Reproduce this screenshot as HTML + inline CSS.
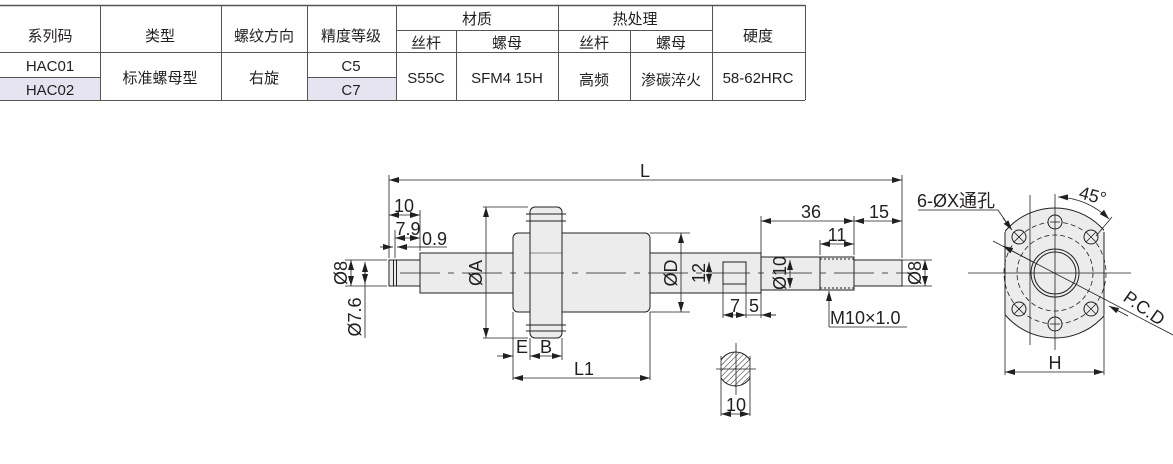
<!DOCTYPE html>
<html><head><meta charset="utf-8"><style>
body{margin:0;width:1173px;height:464px;background:#fff;overflow:hidden;position:relative;font-family:"Liberation Sans","Noto Sans CJK SC",sans-serif;}
svg{position:absolute;left:0;top:0}
</style></head><body>
<svg width="1173" height="464" viewBox="0 0 1173 464" font-family="Liberation Sans, Noto Sans CJK SC, sans-serif" fill="none" stroke="#231f20">
<defs>
<marker id="a" viewBox="0 0 10 6" refX="10" refY="3" markerWidth="10" markerHeight="6" orient="auto-start-reverse" markerUnits="userSpaceOnUse"><path d="M0,0L10,3L0,6z" fill="#231f20" stroke="none"/></marker>
<pattern id="h" width="4" height="4" patternUnits="userSpaceOnUse" patternTransform="rotate(45)"><line x1="0" y1="0" x2="0" y2="4" stroke="#231f20" stroke-width="1"/></pattern>
<clipPath id="cc"><rect x="721" y="340" width="29" height="60"/></clipPath>
<clipPath id="fc"><rect x="1005" y="200" width="99" height="150"/></clipPath>
</defs>
<!-- TABLE -->
<g stroke="#555" stroke-width="1">
<rect x="0" y="77" width="100" height="23" fill="#e6e4f0" stroke="none"/>
<rect x="307" y="77" width="89" height="23" fill="#e6e4f0" stroke="none"/>
<line x1="0" y1="5.5" x2="805" y2="5.5" stroke-width="1.5"/>
<line x1="0" y1="52.5" x2="805" y2="52.5"/>
<line x1="0" y1="100.5" x2="805" y2="100.5"/>
<line x1="396" y1="30.5" x2="712" y2="30.5"/>
<line x1="0" y1="77.5" x2="100" y2="77.5"/>
<line x1="307" y1="77.5" x2="396" y2="77.5"/>
<line x1="100.5" y1="5" x2="100.5" y2="100"/>
<line x1="221.5" y1="5" x2="221.5" y2="100"/>
<line x1="307.5" y1="5" x2="307.5" y2="100"/>
<line x1="396.5" y1="5" x2="396.5" y2="100"/>
<line x1="456.5" y1="30" x2="456.5" y2="100"/>
<line x1="558.5" y1="5" x2="558.5" y2="100"/>
<line x1="630.5" y1="30" x2="630.5" y2="100"/>
<line x1="712.5" y1="5" x2="712.5" y2="100"/>
<line x1="805.5" y1="5" x2="805.5" y2="100"/>
</g>
<g fill="#231f20" stroke="none" font-size="15" text-anchor="middle">
<text x="50" y="41">系列码</text><text x="160" y="41">类型</text><text x="264" y="41">螺纹方向</text><text x="351" y="41">精度等级</text>
<text x="477" y="24">材质</text><text x="635" y="24">热处理</text><text x="758" y="41">硬度</text>
<text x="426" y="48">丝杆</text><text x="507" y="48">螺母</text><text x="594" y="48">丝杆</text><text x="671" y="48">螺母</text>
<text x="50" y="71">HAC01</text><text x="50" y="95">HAC02</text>
<text x="160" y="83">标准螺母型</text><text x="264" y="83">右旋</text>
<text x="351" y="71">C5</text><text x="351" y="95">C7</text>
<text x="426" y="83">S55C</text><text x="507" y="83">SFM4 15H</text>
<text x="594" y="85">高频</text><text x="671" y="85">渗碳淬火</text>
<text x="758" y="83">58-62HRC</text>
</g>
<!-- SHAFT -->
<g stroke-width="1" fill="#ececec">
<rect x="389" y="260" width="31" height="26"/>
<rect x="420" y="253" width="93" height="40"/>
<rect x="513" y="233" width="137" height="79" rx="5"/>
<rect x="530" y="207" width="32" height="131" rx="5"/>
<rect x="650" y="253" width="111" height="40"/>
<rect x="761" y="257" width="59" height="33"/>
<rect x="820" y="257" width="34" height="33"/>
<rect x="854" y="260" width="48" height="26"/>
</g>
<g stroke-width="1">
<line x1="393.5" y1="260" x2="393.5" y2="286"/><line x1="396.5" y1="260" x2="396.5" y2="286"/>
<line x1="526" y1="214" x2="566" y2="214"/><line x1="526" y1="221" x2="566" y2="221"/>
<line x1="526" y1="325" x2="566" y2="325"/><line x1="526" y1="331" x2="566" y2="331"/>
<line x1="530" y1="253" x2="562" y2="253" stroke-width="0.6"/>
<rect x="723" y="262" width="23" height="22" fill="none"/>
<line x1="820" y1="259" x2="854" y2="259" stroke-dasharray="2,2"/><line x1="820" y1="288" x2="854" y2="288" stroke-dasharray="2,2"/>
<line x1="400" y1="273" x2="916" y2="273" stroke-width="0.7" stroke-dasharray="40,8,6,8"/>
</g>
<!-- dims -->
<g stroke-width="0.8">
<line x1="389" y1="175" x2="389" y2="258"/><line x1="902" y1="175" x2="902" y2="258"/>
<line x1="389" y1="180" x2="902" y2="180" marker-start="url(#a)" marker-end="url(#a)"/>
<line x1="420" y1="210" x2="420" y2="251"/>
<line x1="389" y1="215" x2="420" y2="215" marker-start="url(#a)" marker-end="url(#a)"/>
<line x1="395" y1="230" x2="395" y2="258"/>
<line x1="395" y1="238" x2="420" y2="238" marker-start="url(#a)" marker-end="url(#a)"/>
<line x1="380" y1="247" x2="393" y2="247" marker-end="url(#a)"/><line x1="430" y1="247" x2="397" y2="247" marker-end="url(#a)"/><line x1="420" y1="247" x2="447" y2="247"/>
<line x1="345" y1="260" x2="387" y2="260"/><line x1="345" y1="286" x2="387" y2="286"/>
<line x1="351" y1="260" x2="351" y2="286" marker-start="url(#a)" marker-end="url(#a)"/>
<line x1="365" y1="262" x2="365" y2="338"/><line x1="365" y1="262" x2="365" y2="284" marker-start="url(#a)" marker-end="url(#a)"/>
<line x1="483" y1="207" x2="528" y2="207"/><line x1="483" y1="338" x2="528" y2="338"/>
<line x1="486" y1="207" x2="486" y2="338" marker-start="url(#a)" marker-end="url(#a)"/>
<line x1="513" y1="312" x2="513" y2="380"/><line x1="530" y1="338" x2="530" y2="360"/><line x1="562" y1="338" x2="562" y2="360"/><line x1="650" y1="312" x2="650" y2="380"/>
<line x1="497" y1="356" x2="513" y2="356" marker-end="url(#a)"/>
<line x1="530" y1="356" x2="562" y2="356" marker-start="url(#a)" marker-end="url(#a)"/>
<line x1="513" y1="378" x2="650" y2="378" marker-start="url(#a)" marker-end="url(#a)"/>
<line x1="650" y1="233" x2="690" y2="233"/><line x1="650" y1="312" x2="690" y2="312"/>
<line x1="681" y1="233" x2="681" y2="312" marker-start="url(#a)" marker-end="url(#a)"/>
<line x1="709" y1="262" x2="709" y2="284" marker-start="url(#a)" marker-end="url(#a)"/>
<line x1="723" y1="284" x2="723" y2="318"/><line x1="746" y1="284" x2="746" y2="318"/><line x1="761" y1="293" x2="761" y2="318"/>
<line x1="723" y1="315" x2="746" y2="315" marker-start="url(#a)" marker-end="url(#a)"/>
<line x1="746" y1="315" x2="776" y2="315"/><line x1="776" y1="315" x2="761" y2="315" marker-end="url(#a)"/>
<line x1="790" y1="260" x2="790" y2="288" marker-start="url(#a)" marker-end="url(#a)"/>
<line x1="761" y1="216" x2="761" y2="255"/><line x1="854" y1="216" x2="854" y2="255"/><line x1="820" y1="240" x2="820" y2="255"/>
<line x1="761" y1="221" x2="854" y2="221" marker-start="url(#a)" marker-end="url(#a)"/>
<line x1="854" y1="221" x2="902" y2="221" marker-start="url(#a)" marker-end="url(#a)"/>
<line x1="820" y1="244" x2="854" y2="244" marker-start="url(#a)" marker-end="url(#a)"/>
<line x1="902" y1="260" x2="932" y2="260"/><line x1="902" y1="286" x2="932" y2="286"/>
<line x1="925" y1="260" x2="925" y2="286" marker-start="url(#a)" marker-end="url(#a)"/>
<polyline points="829,327 829,292"/><line x1="829" y1="300" x2="829" y2="291" marker-end="url(#a)"/><line x1="829" y1="327" x2="907" y2="327"/>
</g>
<!-- cross section -->
<g clip-path="url(#cc)"><circle cx="735.5" cy="369" r="17" fill="url(#h)" stroke="#231f20"/></g>
<g stroke-width="0.8">
<line x1="721" y1="356" x2="721" y2="383"/><line x1="750" y1="356" x2="750" y2="383"/>
<line x1="736" y1="343" x2="736" y2="395"/><line x1="716" y1="369" x2="756" y2="369"/>
<line x1="721" y1="383" x2="721" y2="416"/><line x1="750" y1="383" x2="750" y2="416"/>
<line x1="721" y1="414" x2="750" y2="414" marker-start="url(#a)" marker-end="url(#a)"/>
</g>
<!-- flange view -->
<g clip-path="url(#fc)"><circle cx="1055" cy="273" r="65" fill="#ececec" stroke="#231f20"/></g>
<g stroke-width="1">
<line x1="1005" y1="232" x2="1005" y2="314"/><line x1="1104" y1="232" x2="1104" y2="314"/>
<circle cx="1055" cy="273" r="51" stroke-dasharray="5,3" stroke-width="0.8"/>
<circle cx="1055" cy="273" r="38" stroke-dasharray="5,3" stroke-width="0.8"/>
<circle cx="1055" cy="273" r="24"/><circle cx="1055" cy="273" r="21"/>
<g fill="#ececec"><circle cx="1055" cy="222" r="7"/><circle cx="1055" cy="324" r="7"/><circle cx="1019" cy="237" r="7"/><circle cx="1091" cy="237" r="7"/><circle cx="1019" cy="309" r="7"/><circle cx="1091" cy="309" r="7"/></g>
<path d="M1014,232l10,10M1024,232l-10,10M1086,232l10,10M1096,232l-10,10M1014,304l10,10M1024,304l-10,10M1086,304l10,10M1096,304l-10,10" stroke-width="0.8"/>
<line x1="1050" y1="222" x2="1060" y2="222" stroke-width="0.8"/><line x1="1050" y1="324" x2="1060" y2="324" stroke-width="0.8"/>
</g>
<g stroke-width="0.8">
<line x1="1055" y1="194" x2="1055" y2="350"/><line x1="1030" y1="195" x2="1030" y2="345"/>
<line x1="968" y1="273" x2="1131" y2="273"/>
<line x1="993" y1="241" x2="1173" y2="335"/>
<line x1="1033" y1="262" x2="1003" y2="246" marker-end="url(#a)"/>
<line x1="1128" y1="316" x2="1109" y2="306" marker-end="url(#a)"/>
<line x1="1005" y1="314" x2="1005" y2="375"/><line x1="1104" y1="314" x2="1104" y2="375"/>
<line x1="1005" y1="372" x2="1104" y2="372" marker-start="url(#a)" marker-end="url(#a)"/>
<path d="M1058,197 A76,76 0 0 1 1109,219" marker-start="url(#a)" marker-end="url(#a)"/>
<line x1="1096" y1="236" x2="1112" y2="217"/>
<polyline points="918,210 998,210 1011,229"/><line x1="1003" y1="218" x2="1012" y2="230" marker-end="url(#a)"/>
</g>
<!-- labels -->
<g fill="#231f20" stroke="none" font-size="18">
<text x="645" y="177" text-anchor="middle">L</text>
<text x="404" y="212" text-anchor="middle">10</text>
<text x="408" y="235" text-anchor="middle">7.9</text>
<text x="422" y="245">0.9</text>
<text x="584" y="375" text-anchor="middle">L1</text>
<text x="522" y="353" text-anchor="middle">E</text>
<text x="546" y="353" text-anchor="middle">B</text>
<text x="736" y="411" text-anchor="middle">10</text>
<text x="735" y="312" text-anchor="middle">7</text>
<text x="754" y="312" text-anchor="middle">5</text>
<text x="811" y="218" text-anchor="middle">36</text>
<text x="879" y="218" text-anchor="middle">15</text>
<text x="837" y="241" text-anchor="middle">11</text>
<text x="830" y="324">M10×1.0</text>
<text x="1055" y="369" text-anchor="middle">H</text>
<text x="917" y="207">6-ØX通孔</text>
<text transform="translate(1078,198) rotate(15)">45°</text>
<text transform="translate(1122,300) rotate(35)">P.C.D</text>
<text transform="translate(347,273) rotate(-90)" text-anchor="middle">Ø8</text>
<text transform="translate(361,317) rotate(-90)" text-anchor="middle">Ø7.6</text>
<text transform="translate(482,273) rotate(-90)" text-anchor="middle">ØA</text>
<text transform="translate(677,273) rotate(-90)" text-anchor="middle">ØD</text>
<text transform="translate(705,273) rotate(-90)" text-anchor="middle">12</text>
<text transform="translate(786,273) rotate(-90)" text-anchor="middle">Ø10</text>
<text transform="translate(921,273) rotate(-90)" text-anchor="middle">Ø8</text>
</g>
</svg>
</body></html>
